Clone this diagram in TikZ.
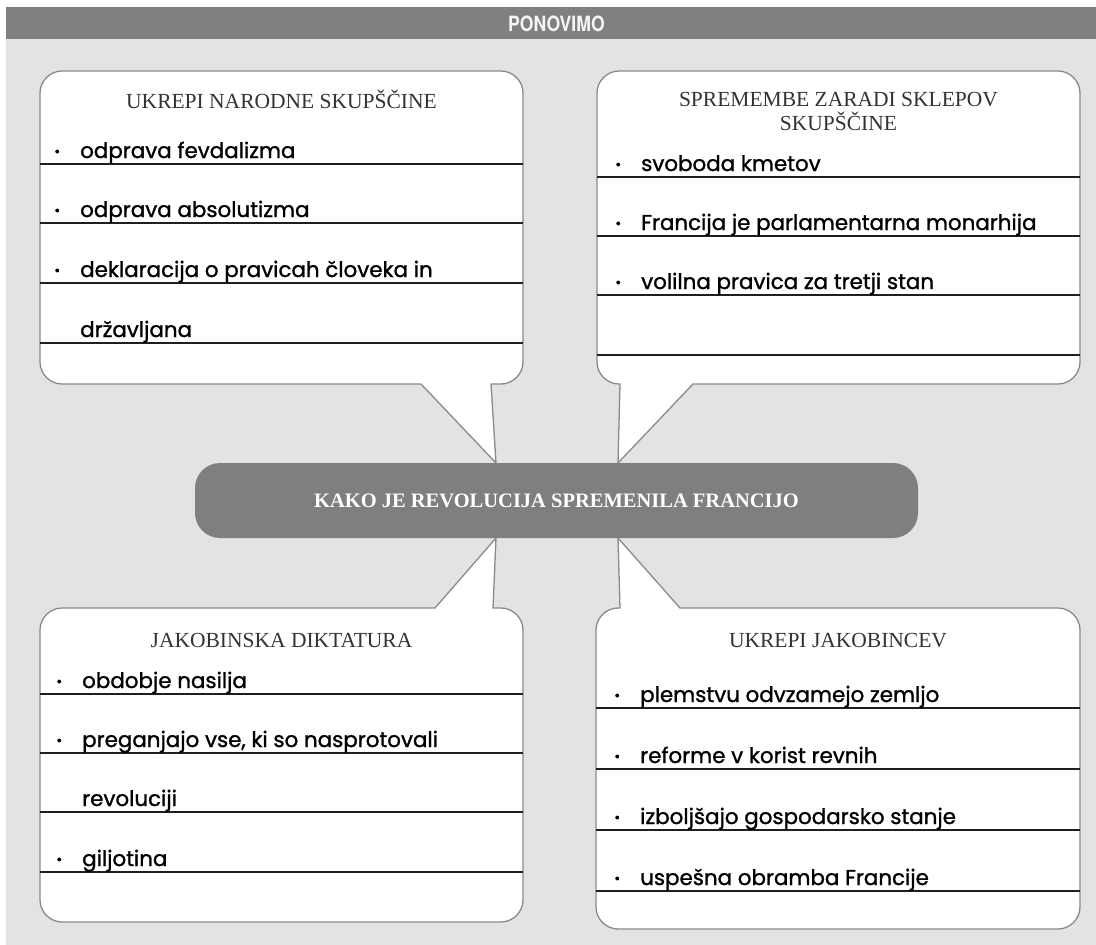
\documentclass[tikz,border=0pt]{standalone}
\usepackage{fontspec}
\usepackage{graphicx}
\setmainfont{Liberation Serif}
\newfontfamily\itemfont[FakeBold=1.2]{Poppins}
\newfontfamily\headfont{TeX Gyre Heros}
\definecolor{bggray}{HTML}{E3E3E3}
\definecolor{headgray}{HTML}{808080}
\definecolor{boxborder}{HTML}{8A8A8A}
\definecolor{titlegray}{HTML}{333333}
\definecolor{centerfill}{HTML}{7F7F7F}
\tikzset{
  callout/.style={draw=boxborder, line width=1.3pt, fill=white, line join=round},
  rowline/.style={draw=black!88, line width=1.2pt},
  boxtitle/.style={font=\fontsize{21.5}{24}\selectfont, text=titlegray, align=center, inner sep=0pt},
  item/.style={font=\itemfont\fontsize{21.4}{24}\selectfont, text=black, anchor=base west, inner sep=0pt},
  centerbox/.style={fill=centerfill, rounded corners=25pt, minimum width=723pt, minimum height=75pt,
    text=white, font=\bfseries\fontsize{20.5}{24}\selectfont, inner sep=0pt},
  headtext/.style={text=white!96!black, font=\headfont\bfseries\fontsize{21}{22}\selectfont, inner sep=0pt}
}
\newcommand{\bul}{\makebox[46pt][c]{\raisebox{-3pt}{\scalebox{1.3}{·}}}}
\begin{document}
\begin{tikzpicture}[x=1pt,y=-1pt]
\useasboundingbox (0,0) rectangle (1096,945);
\fill[white] (0,0) rectangle (1096,945);
\fill[bggray] (6,39) rectangle (1096,945);
\fill[headgray] (6,7) rectangle (1096,39);
\node[headtext] (header) at (556.5,23.5) {\scalebox{0.84}[1]{PONOVIMO}};

% top-left callout
\draw[callout] (62,71) -- (501,71) .. controls +(12,0) and +(0,-12) .. (523,93) -- (523,362)
  .. controls +(0,12) and +(12,0) .. (501,384) -- (491,384) -- (496,463) -- (421,384) -- (62,384)
  .. controls +(-12,0) and +(0,12) .. (40,362) -- (40,93) .. controls +(0,-12) and +(-12,0) .. (62,71) -- cycle;
% top-right callout
\draw[callout] (619,71) -- (1058,71) .. controls +(12,0) and +(0,-12) .. (1080,93) -- (1080,362)
  .. controls +(0,12) and +(12,0) .. (1058,384) -- (693,384) -- (618,463) -- (620,384) -- (619,384)
  .. controls +(-12,0) and +(0,12) .. (597,362) -- (597,93) .. controls +(0,-12) and +(-12,0) .. (619,71) -- cycle;
% bottom-left callout
\draw[callout] (62,608) -- (435,608) -- (496,538) -- (493,608) -- (501,608)
  .. controls +(12,0) and +(0,-12) .. (523,630) -- (523,900) .. controls +(0,12) and +(12,0) .. (501,922)
  -- (62,922) .. controls +(-12,0) and +(0,12) .. (40,900) -- (40,630) .. controls +(0,-12) and +(-12,0) .. (62,608) -- cycle;
% bottom-right callout
\draw[callout] (618,608) -- (620,608) -- (618,538) -- (680,608) -- (1058,608)
  .. controls +(12,0) and +(0,-12) .. (1080,630) -- (1080,907) .. controls +(0,12) and +(12,0) .. (1058,929)
  -- (618,929) .. controls +(-12,0) and +(0,12) .. (596,907) -- (596,630) .. controls +(0,-12) and +(-12,0) .. (618,608) -- cycle;

% row lines
\foreach \y in {164,223,283,343} \draw[rowline] (40,\y) -- (523,\y);
\foreach \y in {177,236,295,355} \draw[rowline] (597,\y) -- (1080,\y);
\foreach \y in {694,753,812,872} \draw[rowline] (40,\y) -- (523,\y);
\foreach \y in {708,769,830,891} \draw[rowline] (596,\y) -- (1080,\y);

% centre
\node[centerbox] (centre) at (556.5,500.5) {KAKO JE REVOLUCIJA SPREMENILA FRANCIJO};

% titles
\node[boxtitle] (t1) at (281.5,99) {UKREPI NARODNE SKUPŠČINE};
\node[boxtitle] (t2) at (838.5,111) {SPREMEMBE ZARADI SKLEPOV\\SKUPŠČINE};
\node[boxtitle] (t3) at (281.5,640) {JAKOBINSKA DIKTATURA};
\node[boxtitle] (t4) at (838,641) {UKREPI JAKOBINCEV};

% items top-left
\node[item] (a1) at (34,158) {\bul odprava fevdalizma};
\node[item] (a2) at (34,217) {\bul odprava absolutizma};
\node[item] (a3) at (34,277) {\bul deklaracija o pravicah človeka in};
\node[item] (a4) at (80,337) {državljana};
% items top-right
\node[item] (b1) at (595,171) {\bul svoboda kmetov};
\node[item] (b2) at (595,230) {\bul Francija je parlamentarna monarhija};
\node[item] (b3) at (595,289) {\bul volilna pravica za tretji stan};
% items bottom-left
\node[item] (c1) at (36,688) {\bul obdobje nasilja};
\node[item] (c2) at (36,747) {\bul preganjajo vse, ki so nasprotovali};
\node[item] (c3) at (82,806) {revoluciji};
\node[item] (c4) at (36,866) {\bul giljotina};
% items bottom-right
\node[item] (d1) at (594,702) {\bul plemstvu odvzamejo zemljo};
\node[item] (d2) at (594,763) {\bul reforme v korist revnih};
\node[item] (d3) at (594,824) {\bul izboljšajo gospodarsko stanje};
\node[item] (d4) at (594,885) {\bul uspešna obramba Francije};
\end{tikzpicture}
\end{document}
